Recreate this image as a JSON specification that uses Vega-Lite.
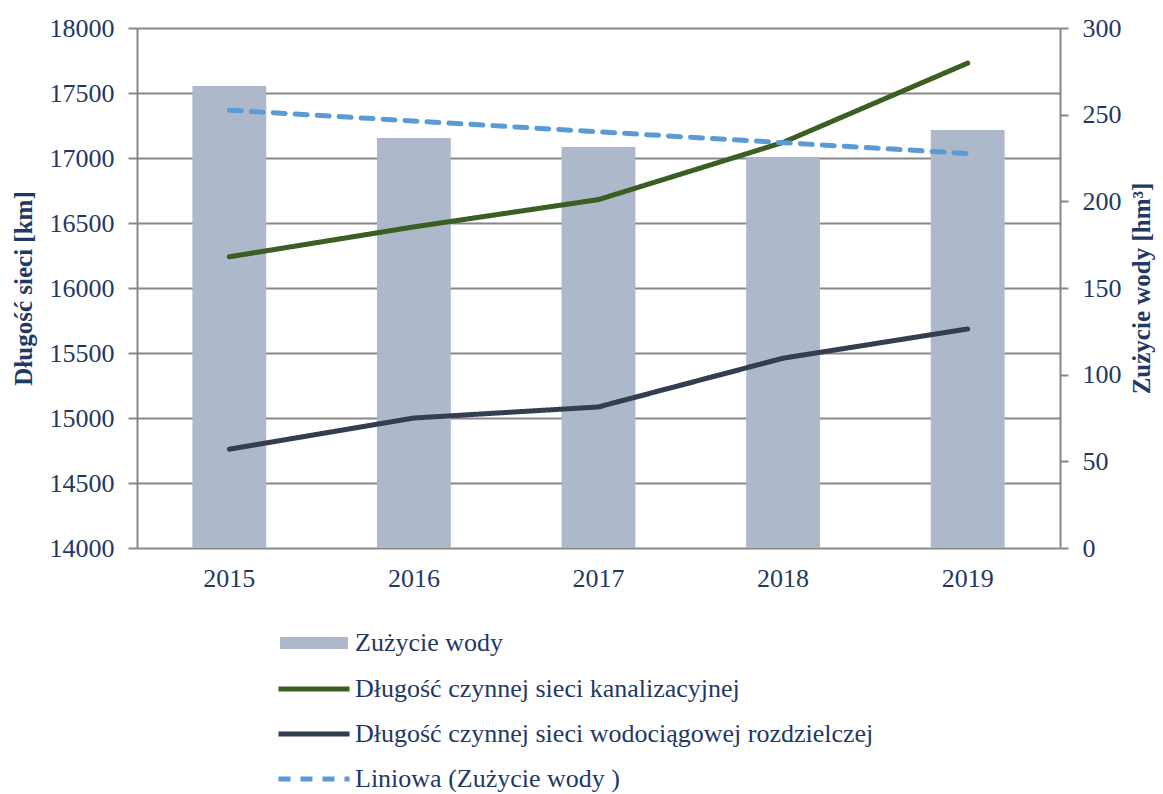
{
  "$schema": "https://vega.github.io/schema/vega-lite/v6.json",
  "width": 923,
  "height": 520,
  "autosize": {"type": "none"},
  "padding": {"left": 137, "top": 28, "right": 103, "bottom": 246},
  "background": "white",
  "config": {
    "view": {"stroke": null},
    "font": "Liberation Serif"
  },
  "datasets": {
    "water": [
      {"year": "2015", "series": "Zużycie wody", "value": 266.5},
      {"year": "2016", "series": "Zużycie wody", "value": 236.5},
      {"year": "2017", "series": "Zużycie wody", "value": 231.3},
      {"year": "2018", "series": "Zużycie wody", "value": 225.6},
      {"year": "2019", "series": "Zużycie wody", "value": 241.2}
    ],
    "network": [
      {"year": "2015", "series": "Długość czynnej sieci kanalizacyjnej", "km": 16240},
      {"year": "2016", "series": "Długość czynnej sieci kanalizacyjnej", "km": 16470},
      {"year": "2017", "series": "Długość czynnej sieci kanalizacyjnej", "km": 16680},
      {"year": "2018", "series": "Długość czynnej sieci kanalizacyjnej", "km": 17120},
      {"year": "2019", "series": "Długość czynnej sieci kanalizacyjnej", "km": 17730},
      {"year": "2015", "series": "Długość czynnej sieci wodociągowej rozdzielczej", "km": 14760},
      {"year": "2016", "series": "Długość czynnej sieci wodociągowej rozdzielczej", "km": 15000},
      {"year": "2017", "series": "Długość czynnej sieci wodociągowej rozdzielczej", "km": 15085},
      {"year": "2018", "series": "Długość czynnej sieci wodociągowej rozdzielczej", "km": 15460},
      {"year": "2019", "series": "Długość czynnej sieci wodociągowej rozdzielczej", "km": 15685}
    ],
    "trend": [
      {"year": "2015", "series": "Liniowa (Zużycie wody )", "value": 252.6},
      {"year": "2019", "series": "Liniowa (Zużycie wody )", "value": 227.6}
    ]
  },
  "layer": [
    {
      "data": {"name": "water"},
      "mark": {"type": "bar"},
      "encoding": {
        "x": {
          "field": "year", "type": "ordinal",
          "scale": {"type": "band", "paddingInner": 0.6, "paddingOuter": 0.3},
          "axis": {
            "title": null, "domain": false, "ticks": false, "labelAngle": 0,
            "labelFont": "Liberation Serif", "labelFontSize": 26, "labelColor": "#1F3864", "labelPadding": 17
          }
        },
        "y": {
          "field": "value", "type": "quantitative",
          "scale": {"domain": [0, 300], "nice": false, "zero": false},
          "axis": {
            "orient": "right", "title": "Zużycie wody [hm³]", "values": [0, 50, 100, 150, 200, 250, 300],
            "grid": false, "domainColor": "#878787", "domainWidth": 2, "tickColor": "#878787", "tickWidth": 2, "tickSize": 8,
            "labelFont": "Liberation Serif", "labelFontSize": 26, "labelColor": "#1F3864", "labelPadding": 14,
            "titleFont": "Liberation Serif", "titleFontWeight": "bold", "titleFontSize": 25, "titleColor": "#1F3864",
            "titleAngle": 270, "titlePadding": 33
          }
        },
        "fill": {
          "field": "series", "type": "nominal",
          "scale": {"domain": ["Zużycie wody"], "range": ["#ADB9CA"]},
          "legend": {
            "title": null, "orient": "none", "legendX": 164, "legendY": 602, "padding": 0,
            "symbolType": "M-5.67,-1H5.67V1H-5.67Z", "symbolSize": 144, "symbolStrokeWidth": 0,
            "labelFont": "Liberation Serif", "labelFontSize": 26, "labelColor": "#1F3864", "labelOffset": 28,
            "labelLimit": 800
          }
        }
      }
    },
    {
      "data": {"name": "network"},
      "mark": {"type": "line", "strokeCap": "round", "strokeJoin": "round"},
      "encoding": {
        "x": {"field": "year", "type": "ordinal"},
        "y": {
          "field": "km", "type": "quantitative",
          "scale": {"domain": [14000, 18000], "nice": false, "zero": false},
          "axis": {
            "orient": "left", "title": "Długość sieci [km]", "values": [14000, 14500, 15000, 15500, 16000, 16500, 17000, 17500, 18000],
            "format": "d", "grid": true, "gridColor": "#878787", "gridWidth": 2,
            "domainColor": "#878787", "domainWidth": 2, "tickColor": "#878787", "tickWidth": 2, "tickSize": 9,
            "labelFont": "Liberation Serif", "labelFontSize": 26, "labelColor": "#1F3864", "labelPadding": 14,
            "titleFont": "Liberation Serif", "titleFontWeight": "bold", "titleFontSize": 25, "titleColor": "#1F3864",
            "titlePadding": 13
          }
        },
        "stroke": {
          "field": "series", "type": "nominal",
          "scale": {
            "domain": ["Długość czynnej sieci kanalizacyjnej", "Długość czynnej sieci wodociągowej rozdzielczej", "Liniowa (Zużycie wody )"],
            "range": ["#3B5E22", "#333F50", "#5B9BD5"]
          },
          "legend": {
            "title": null, "orient": "none", "legendX": 164, "legendY": 648, "padding": 0, "rowPadding": 19,
            "symbolType": "M-5.92,0H5.92", "symbolSize": 144,
            "labelFont": "Liberation Serif", "labelFontSize": 26, "labelColor": "#1F3864", "labelOffset": 28,
            "labelLimit": 800
          }
        },
        "strokeDash": {
          "field": "series", "type": "nominal",
          "scale": {
            "domain": ["Długość czynnej sieci kanalizacyjnej", "Długość czynnej sieci wodociągowej rozdzielczej", "Liniowa (Zużycie wody )"],
            "range": [[1, 0], [1, 0], [12, 10]]
          },
          "legend": {
            "title": null, "orient": "none", "legendX": 164, "legendY": 648, "padding": 0, "rowPadding": 19,
            "symbolType": "M-5.92,0H5.92", "symbolSize": 144,
            "labelFont": "Liberation Serif", "labelFontSize": 26, "labelColor": "#1F3864", "labelOffset": 28,
            "labelLimit": 800
          }
        },
        "strokeWidth": {
          "field": "series", "type": "ordinal",
          "scale": {
            "domain": ["Długość czynnej sieci kanalizacyjnej", "Długość czynnej sieci wodociągowej rozdzielczej", "Liniowa (Zużycie wody )"],
            "range": [5, 5, 3]
          },
          "legend": {
            "title": null, "orient": "none", "legendX": 164, "legendY": 648, "padding": 0, "rowPadding": 19,
            "symbolType": "M-5.92,0H5.92", "symbolSize": 144,
            "labelFont": "Liberation Serif", "labelFontSize": 26, "labelColor": "#1F3864", "labelOffset": 28,
            "labelLimit": 800
          }
        }
      }
    },
    {
      "data": {"name": "trend"},
      "mark": {"type": "line", "strokeCap": "round"},
      "encoding": {
        "x": {"field": "year", "type": "ordinal"},
        "y": {
          "field": "value", "type": "quantitative",
          "scale": {"domain": [0, 300], "nice": false, "zero": false},
          "axis": null
        },
        "stroke": {"field": "series", "type": "nominal"},
        "strokeDash": {"field": "series", "type": "nominal"},
        "strokeWidth": {"field": "series", "type": "ordinal"}
      }
    }
  ],
  "resolve": {"scale": {"y": "independent"}}
}
